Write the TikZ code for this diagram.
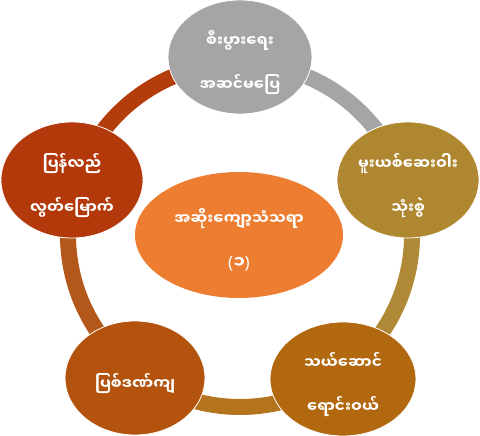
\documentclass[tikz,border=0pt]{standalone}
\usepackage{fontspec}
\newfontfamily\mya[Script=Myanmar]{Noto Sans Myanmar UI}
\newfontfamily\latf{Noto Sans}
\usetikzlibrary{shapes.geometric,calc}
\definecolor{cgray}{HTML}{A5A5A5}
\definecolor{cgold}{HTML}{AF8730}
\definecolor{cbrown}{HTML}{B2680F}
\definecolor{crust}{HTML}{B3530D}
\definecolor{cred}{HTML}{B4390A}
\definecolor{corange}{HTML}{ED7D31}
\definecolor{rgold}{HTML}{B08936}
\definecolor{rbrown}{HTML}{B4741E}
\definecolor{rrust}{HTML}{B3581A}
\definecolor{rred}{HTML}{B43D0C}
\newcommand{\tx}[1]{\raisebox{-6pt}[18pt][18pt]{\begin{tabular}[c]{@{}c@{}}#1\end{tabular}}}
\tikzset{
  blob/.style={ellipse, draw=white, line width=0.8pt, text=white, inner sep=0pt,
    font=\mya\bfseries\fontsize{15.2}{44}\selectfont},
  ring/.style={line width=16pt}
}
\begin{document}
\begin{tikzpicture}[x=1pt,y=1pt]
\useasboundingbox (0,0) rectangle (480,436);
\coordinate (O) at (240,201);
\coordinate (aT) at ($(O)+(90:172)$);
\coordinate (aR) at ($(O)+(18:172)$);
\coordinate (aBR) at ($(O)+(-54:172)$);
\coordinate (aBL) at ($(O)+(-126:172)$);
\coordinate (aL) at ($(O)+(162:172)$);
\draw[ring, cgray] (aT) arc[start angle=90, end angle=18, radius=172];
\draw[ring, rgold] (aR) arc[start angle=18, end angle=-54, radius=172];
\draw[ring, rbrown] (aBR) arc[start angle=-54, end angle=-126, radius=172];
\draw[ring, rrust] (aBL) arc[start angle=-126, end angle=-198, radius=172];
\draw[ring, rred] (aL) arc[start angle=162, end angle=90, radius=172];
\node[blob, fill=cgray, minimum width=144, minimum height=114] (top) at (240,379) {\tx{စီးပွားရေး\\အဆင်မပြေ}};
\node[blob, fill=cgold, minimum width=142, minimum height=116] (right) at (408,256) {\tx{မူးယစ်ဆေးဝါး\\သုံးစွဲ}};
\node[blob, fill=cbrown, minimum width=146, minimum height=114] (bright) at (343,57) {\tx{သယ်ဆောင်\\ရောင်းဝယ်}};
\node[blob, fill=crust, minimum width=140, minimum height=114] (bleft) at (135,58) {\tx{ပြစ်ဒဏ်ကျ}};
\node[blob, fill=cred, minimum width=142, minimum height=116] (left) at (72,256) {\tx{ပြန်လည်\\လွတ်မြောက်}};
\node[blob, fill=corange, draw=none, minimum width=208, minimum height=126] (mid) at (239,201) {\tx{အဆိုးကျော့သံသရာ\\{\fontsize{17}{44}\selectfont{\latf(}၁{\latf)}}}};
\end{tikzpicture}
\end{document}
